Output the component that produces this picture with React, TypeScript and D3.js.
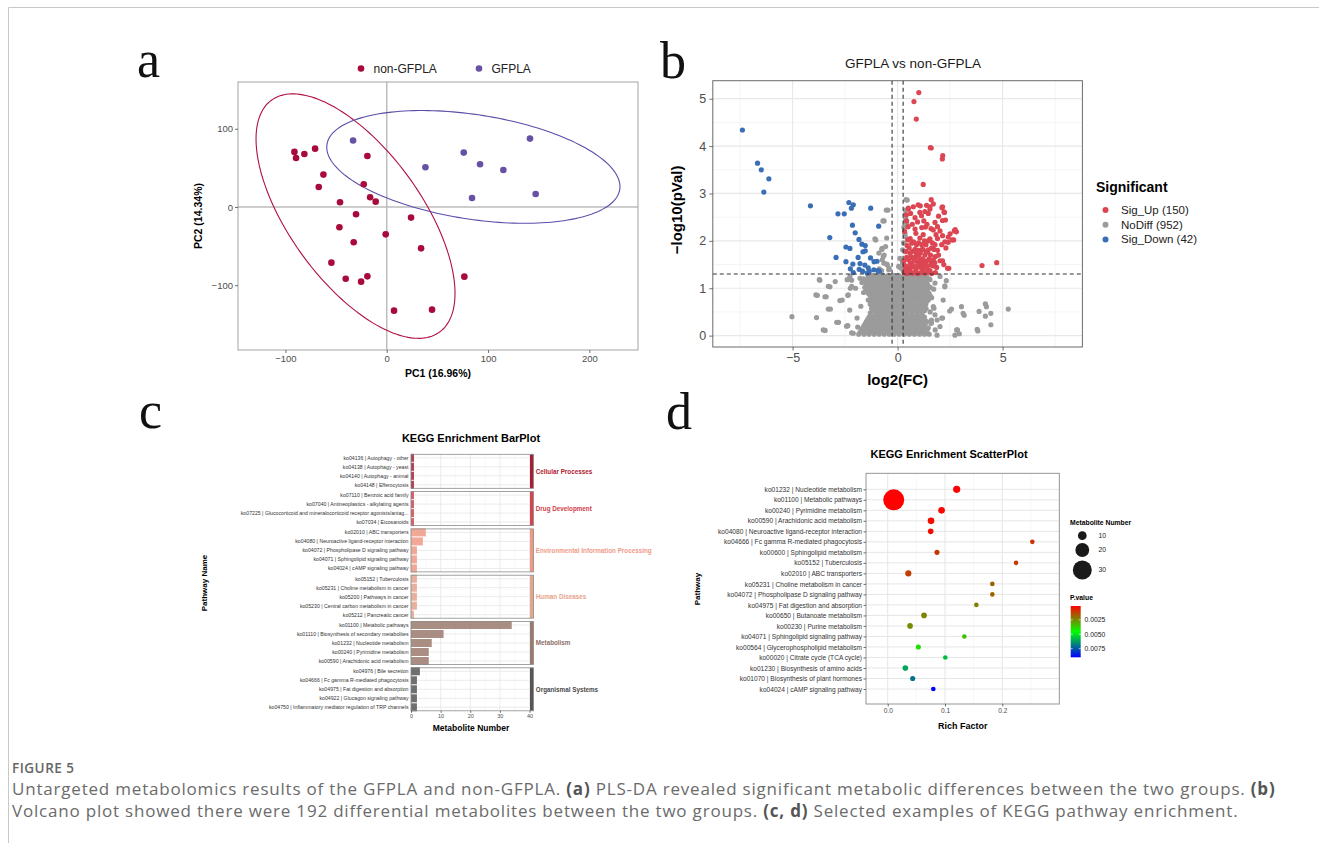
import React, { useEffect, useRef } from 'react';
import * as d3 from 'd3';

// ---------- a: PLS-DA scores ----------
const groupNames = ['non-GFPLA', 'GFPLA'];
const groupColors = ['#A80B3B', '#6651A7'];
const ellipseColors = ['#B0103F', '#5B4DAA'];
const nonGfplaScores = [
  [-91.1, 70.4], [-89.5, 62.7], [-81.3, 67.8], [-70.7, 74.6], [-19.1, 65.2],
  [-62.5, 41.4], [-67.1, 25.6], [-22.7, 29.0], [-16.4, 12.4], [-10.9, 6.8],
  [-46.1, 6.0], [-30.3, -9.4], [-46.7, -26.0], [24.0, -13.6], [-1.0, -35.0],
  [-32.6, -45.2], [33.9, -52.9], [-54.6, -71.2], [-40.5, -91.7], [-25.3, -95.5],
  [-19.1, -88.7], [76.6, -89.1], [7.2, -132.6], [44.7, -131.3],
];
const gfplaScores = [
  [-33.2, 84.9], [76.0, 69.5], [141.4, 87.4], [38.2, 50.7],
  [92.1, 54.6], [115.1, 47.3], [147.0, 16.6], [84.2, 11.5],
];
// centre x, centre y, half range x, half range y, phase
const nonGfplaEllipse = [-30.8, -11.7, 98.2, 156.3, 2.254];
const gfplaEllipse = [85.5, 51.2, 144.7, 72.1, 1.928];
const pcaXTicks = [-100, 0, 100, 200];
const pcaYTicks = [-100, 0, 100];

// ---------- b: volcano ----------
const volcanoGroups = ['Sig_Up (150)', 'NoDiff (952)', 'Sig_Down (42)'];
const volcanoColors = ['#DC4653', '#9B9B9B', '#3A6EB6'];
const sigDown = [
  [-7.39, 4.34], [-6.67, 3.64], [-6.49, 3.5], [-6.13, 3.31], [-6.37, 3.03], [-4.15, 2.74],
  [-2.32, 2.81], [-2.11, 2.76], [-2.2, 2.69], [-2.84, 2.57], [-2.54, 2.57], [-1.28, 2.69],
  [-2.15, 2.33], [-0.9, 2.31], [-2.02, 2.17], [-3.23, 2.07], [-1.84, 2.03], [-1.7, 1.93],
  [-1.54, 1.9], [-2.46, 1.87], [-2.27, 1.84], [-1.54, 1.79], [-1.65, 1.77], [-2.93, 1.65],
  [-1.88, 1.65], [-1.29, 1.64], [-2.46, 1.56], [-2.13, 1.51], [-1.79, 1.52], [-1.56, 1.49],
  [-1.4, 1.43], [-1.12, 1.56], [-0.98, 1.57], [-1.83, 1.4], [-2.11, 1.33], [-1.67, 1.36],
  [-1.35, 1.36], [-0.94, 1.37], [-0.87, 1.36], [-2.25, 1.41], [-1.45, 1.32], [-1.13, 1.39],
];
const sigUp = [
  [1.01, 5.13], [0.78, 4.94], [0.89, 4.57], [1.56, 3.97], [1.6, 3.96], [2.15, 3.8], [2.13, 3.73],
  [1.22, 3.19], [4.02, 1.48], [4.72, 1.54],
  [1.6, 2.87], [0.98, 2.76], [1.38, 2.75], [0.51, 2.67], [1.54, 2.67], [2.11, 2.7], [2.21, 2.61],
  [1.06, 2.6], [1.46, 2.58], [1.14, 2.53], [0.83, 2.49], [0.43, 2.42], [2.14, 2.43], [1.25, 2.42],
  [1.78, 2.39], [1.33, 2.29], [1.59, 2.26], [0.83, 2.25], [1.7, 2.23], [2.02, 2.21], [2.7, 2.21],
  [0.87, 2.16], [1.22, 2.13], [1.83, 2.13], [2.14, 2.11], [2.41, 2.08], [2.59, 2.02], [1.06, 2.06],
  [1.54, 2.04], [0.48, 2.02], [0.67, 1.95], [0.9, 1.92], [1.35, 1.92], [1.78, 1.92], [2.1, 1.92],
  [0.83, 1.82], [1.14, 1.81], [1.46, 1.81], [1.73, 1.82], [0.59, 1.74], [0.9, 1.73], [1.3, 1.7],
  [1.57, 1.7], [0.43, 1.65], [0.75, 1.63], [1.06, 1.6], [1.38, 1.58], [1.7, 1.6], [2.02, 1.58],
  [0.67, 1.53], [0.98, 1.49], [1.25, 1.47], [1.57, 1.49], [1.86, 1.44], [2.38, 1.42], [0.38, 1.42],
  [0.59, 1.37], [0.87, 1.39], [1.22, 1.37], [1.54, 1.37],
  [2.67, 2.02], [2.41, 1.97], [2.8, 2.19], [2.74, 2.24], [2.44, 1.42], [2.14, 1.58], [1.77, 1.54],
  [2.23, 2.6], [2.28, 2.44], [2.14, 2.72], [1.54, 2.72], [1.08, 2.74], [1.7, 2.78], [0.51, 2.69],
  [0.32, 1.33], [0.45, 1.31], [0.55, 1.34], [0.7, 1.32], [0.82, 1.33], [0.95, 1.31], [1.1, 1.33],
  [1.3, 1.32], [1.45, 1.34], [1.62, 1.31], [1.8, 1.33], [0.35, 1.48], [0.5, 1.45], [0.62, 1.44],
  [0.78, 1.46], [0.9, 1.43], [1.12, 1.44], [1.4, 1.43], [1.7, 1.47], [2.2, 1.5], [0.3, 1.58],
  [0.52, 1.6], [0.64, 1.67], [0.88, 1.57], [1.0, 1.69], [1.18, 1.62], [1.25, 1.56], [1.5, 1.62],
  [1.8, 1.67], [1.95, 1.7], [0.4, 1.78], [0.55, 1.85], [0.72, 1.78], [0.98, 1.8], [1.08, 1.74],
  [1.2, 1.82], [1.42, 1.76], [1.62, 1.85], [1.9, 1.8], [2.3, 1.85], [0.45, 1.9], [0.6, 2.05],
  [0.76, 1.98], [1.0, 1.96], [1.15, 1.92], [1.28, 2.0], [1.45, 2.0], [1.65, 1.96], [1.9, 2.05],
  [2.25, 1.98], [0.5, 2.3], [0.7, 2.35], [0.95, 2.4], [1.15, 2.28], [1.4, 2.35], [1.9, 2.3],
  [2.5, 2.15], [0.4, 1.36], [0.6, 1.52], [1.05, 1.52], [1.35, 1.5], [1.6, 1.55], [0.85, 1.66],
  [1.35, 1.78], [0.33, 2.2], [0.42, 2.55], [0.62, 2.58], [0.75, 2.72], [1.3, 2.62], [1.95, 2.52],
];
const noDiffScatter = [
  [-5.03, 0.4], [-3.86, 0.38], [-3.45, 0.11], [-3.82, 0.85], [-3.7, 1.17], [-3.22, 1.03],
  [-3.4, 0.82], [-3.2, 0.56], [-2.81, 0.28], [-2.64, 0.75], [-2.37, 0.85], [-2.28, 0.54],
  [-2.37, 0.21], [-2.11, 0.05], [-2.19, 1.17], [-2.0, 1.0], [-1.93, 0.37], [-2.25, 1.0],
  [-0.46, 2.65], [-0.64, 2.42], [-1.04, 2.02], [-0.74, 1.84], [-0.64, 1.7], [-0.73, 1.6],
  [-0.51, 1.51], [-0.87, 1.41], [-0.42, 1.39], [0.46, 2.86], [0.37, 2.65], [0.37, 2.41],
  [0.48, 2.3], [0.37, 2.09], [0.28, 1.96], [0.34, 1.77], [0.23, 1.56], [0.16, 1.42],
  [2.32, 1.16], [2.25, 1.03], [1.73, 0.58], [2.14, 0.37], [1.79, 0.12], [1.88, 0.01],
  [2.57, 0.56], [2.85, 0.12], [2.94, 0.04], [3.04, 0.61], [3.12, 0.47], [3.17, 0.43],
  [3.79, 0.13], [3.88, 0.51], [4.18, 0.67], [4.23, 0.61], [4.18, 0.41], [4.44, 0.47],
  [4.44, 0.23], [5.27, 0.56], [3.82, 0.1], [1.61, 0.27], [1.29, 0.2], [1.08, 0.11],
  [1.35, 0.05], [1.61, 0.33], [1.88, 0.33],
  [0.4, 2.87], [-0.54, 2.65], [-0.7, 2.42], [-1.08, 2.04], [-0.52, 2.06], [-0.75, 1.82],
  [-0.57, 1.88], [-0.89, 1.74], [-0.68, 1.67], [-0.49, 1.49], [-0.65, 1.53], [-0.4, 1.42],
  [-0.76, 1.37], [0.35, 2.16], [0.3, 2.29], [0.43, 2.37], [0.38, 2.48], [0.37, 2.56],
  [0.24, 1.81], [0.11, 1.63], [0.05, 1.46], [0.24, 1.53], [0.27, 1.37],
  [-3.73, 1.18], [-3.3, 1.04], [-2.97, 1.14], [-2.4, 1.18], [-2.27, 1.25], [-1.79, 1.21],
  [-2.19, 1.04], [-2.35, 0.86], [-2.75, 0.74], [-3.3, 0.56], [-3.46, 0.82], [-3.89, 0.86],
  [-2.9, 0.28], [-2.43, 0.2], [-3.54, 0.12], [-2.19, 0.06], [2.25, 1.05], [2.17, 0.75],
  [2.48, 0.52], [2.1, 0.37], [2.02, 0.19], [2.81, 0.12], [2.73, 0.01], [1.7, 0.61],
  [1.78, 0.44], [1.59, 0.26], [1.3, 0.72], [1.54, 1.18], [1.78, 1.11], [1.38, 1.25], [2.02, 1.25],
  [-1.75, 0.62], [-1.62, 0.91], [-1.9, 0.18], [-1.7, 1.12], [1.62, 0.8], [1.72, 0.98], [1.55, 0.5],
];
// dense NoDiff core, one entry per row: [-log10 p, log2 FC values]
const noDiffCoreRows: [number, number[]][] = [
  [0.03, [-1.85, -1.6, -1.36, -1.12, -0.88, -0.64, -0.4, -0.16, 0.08, 0.32, 0.56, 0.8, 1.04, 1.28, 1.5]],
  [0.075, [-1.78, -1.54, -1.3, -1.06, -0.82, -0.58, -0.34, -0.1, 0.14, 0.38, 0.62, 0.86, 1.1, 1.34]],
  [0.12, [-1.72, -1.48, -1.24, -1.0, -0.76, -0.52, -0.28, -0.04, 0.2, 0.44, 0.68, 0.92, 1.16, 1.4]],
  [0.165, [-1.66, -1.42, -1.18, -0.94, -0.7, -0.46, -0.22, 0.02, 0.26, 0.5, 0.74, 0.98, 1.22, 1.46]],
  [0.21, [-1.6, -1.36, -1.12, -0.88, -0.64, -0.4, -0.16, 0.08, 0.32, 0.56, 0.8, 1.04, 1.28]],
  [0.255, [-1.54, -1.3, -1.06, -0.82, -0.58, -0.34, -0.1, 0.14, 0.38, 0.62, 0.86, 1.1, 1.32]],
  [0.3, [-1.48, -1.24, -1.0, -0.76, -0.52, -0.28, -0.04, 0.2, 0.44, 0.68, 0.92, 1.16, 1.38]],
  [0.345, [-1.42, -1.18, -0.94, -0.7, -0.46, -0.22, 0.02, 0.26, 0.5, 0.74, 0.98, 1.22]],
  [0.39, [-1.36, -1.12, -0.88, -0.64, -0.4, -0.16, 0.1, 0.32, 0.56, 0.8, 1.04, 1.28]],
  [0.435, [-1.24, -1.0, -0.76, -0.52, -0.28, -0.04, 0.2, 0.44, 0.68, 0.92, 1.16]],
  [0.48, [-1.3, -1.0, -0.76, -0.52, -0.28, -0.04, 0.2, 0.44, 0.68, 0.92, 1.16]],
  [0.525, [-1.14, -0.88, -0.64, -0.4, -0.16, 0.1, 0.34, 0.58, 0.82, 1.06, 1.28]],
  [0.57, [-1.24, -0.98, -0.74, -0.5, -0.26, -0.02, 0.22, 0.46, 0.7, 0.94, 1.18, 1.36]],
  [0.615, [-1.18, -0.94, -0.7, -0.46, -0.22, 0.02, 0.26, 0.5, 0.74, 0.98, 1.22]],
  [0.66, [-1.3, -1.06, -0.82, -0.58, -0.34, -0.1, 0.14, 0.38, 0.62, 0.86, 1.1, 1.34]],
  [0.705, [-1.28, -1.04, -0.8, -0.56, -0.32, -0.08, 0.16, 0.4, 0.64, 0.88, 1.12, 1.36]],
  [0.75, [-1.4, -1.16, -0.92, -0.68, -0.44, -0.2, 0.04, 0.28, 0.52, 0.76, 1.0, 1.24, 1.46]],
  [0.795, [-1.22, -0.98, -0.74, -0.5, -0.26, -0.02, 0.22, 0.46, 0.7, 0.94, 1.18, 1.42]],
  [0.84, [-1.3, -1.06, -0.82, -0.58, -0.34, -0.1, 0.14, 0.38, 0.62, 0.86, 1.1, 1.34, 1.55]],
  [0.885, [-1.38, -1.14, -0.9, -0.66, -0.42, -0.18, 0.06, 0.3, 0.54, 0.78, 1.02, 1.26, 1.5]],
  [0.93, [-1.44, -1.2, -0.96, -0.72, -0.48, -0.24, 0.0, 0.24, 0.48, 0.72, 0.96, 1.2, 1.44]],
  [0.975, [-1.5, -1.26, -1.02, -0.78, -0.54, -0.3, -0.06, 0.18, 0.42, 0.66, 0.9, 1.14, 1.38]],
  [1.02, [-1.56, -1.32, -1.08, -0.84, -0.6, -0.36, -0.12, 0.12, 0.36, 0.6, 0.84, 1.08, 1.32, 1.56]],
  [1.065, [-1.44, -1.2, -0.96, -0.72, -0.48, -0.24, 0.0, 0.24, 0.48, 0.72, 0.96, 1.2, 1.44]],
  [1.11, [-1.5, -1.26, -1.02, -0.78, -0.54, -0.3, -0.06, 0.18, 0.42, 0.66, 0.9, 1.14, 1.38]],
  [1.155, [-1.56, -1.32, -1.08, -0.84, -0.6, -0.36, -0.12, 0.12, 0.36, 0.6, 0.84, 1.08, 1.32]],
  [1.2, [-1.62, -1.38, -1.14, -0.9, -0.66, -0.42, -0.18, 0.06, 0.3, 0.54, 0.78, 1.02, 1.26, 1.5]],
  [1.24, [-1.4, -1.1, -0.82, -0.56, -0.3, -0.05, 0.25, 0.52, 0.78, 1.02, 1.3]],
  [1.27, [-1.2, -0.95, -0.7, -0.45, -0.2, 0.05, 0.4, 0.65, 0.9, 1.15]],
];
const fcCutoff = 0.263;
const pCutoff = 1.301;
const volcanoXTicks = [-5, 0, 5];
const volcanoYTicks = [0, 1, 2, 3, 4, 5];

// ---------- c: KEGG bar plot ----------
const barCategories = [
  'Cellular Processes', 'Drug Development', 'Environmental Information Processing',
  'Human Diseases', 'Metabolism', 'Organismal Systems',
];
const barFill = ['#A71E34', '#D5434C', '#EE9985', '#E3A58C', '#9B7A6F', '#565656'];
const barLabelColor = ['#B0202F', '#D0404A', '#EF9A88', '#E6A48C', '#8E6E66', '#4A4A4A'];
const barPathways = [
  ['ko04136 | Autophagy - other', 'ko04138 | Autophagy - yeast', 'ko04140 | Autophagy - animal', 'ko04148 | Efferocytosis'],
  ['ko07110 | Benzoic acid family', 'ko07040 | Antineoplastics - alkylating agents',
    'ko07225 | Glucocorticoid and mineralocorticoid receptor agonists/antag...', 'ko07034 | Eicosanoids'],
  ['ko02010 | ABC transporters', 'ko04080 | Neuroactive ligand-receptor interaction',
    'ko04072 | Phospholipase D signaling pathway', 'ko04071 | Sphingolipid signaling pathway',
    'ko04024 | cAMP signaling pathway'],
  ['ko05152 | Tuberculosis', 'ko05231 | Choline metabolism in cancer', 'ko05200 | Pathways in cancer',
    'ko05230 | Central carbon metabolism in cancer', 'ko05212 | Pancreatic cancer'],
  ['ko01100 | Metabolic pathways', 'ko01110 | Biosynthesis of secondary metabolites',
    'ko01232 | Nucleotide metabolism', 'ko00240 | Pyrimidine metabolism',
    'ko00590 | Arachidonic acid metabolism'],
  ['ko04976 | Bile secretion', 'ko04666 | Fc gamma R-mediated phagocytosis',
    'ko04975 | Fat digestion and absorption', 'ko04922 | Glucagon signaling pathway',
    'ko04750 | Inflammatory mediator regulation of TRP channels'],
];
const barCounts = [
  [1, 1, 1, 1],
  [1, 1, 1, 1],
  [5, 4, 2, 2, 2],
  [2, 2, 2, 2, 1],
  [34, 11, 7, 6, 6],
  [3, 2, 2, 2, 2],
];
const barXTicks = [0, 10, 20, 30, 40];

// ---------- d: KEGG scatter plot ----------
const scatterPathways = [
  'ko01232 | Nucleotide metabolism', 'ko01100 | Metabolic pathways', 'ko00240 | Pyrimidine metabolism',
  'ko00590 | Arachidonic acid metabolism', 'ko04080 | Neuroactive ligand-receptor interaction',
  'ko04666 | Fc gamma R-mediated phagocytosis', 'ko00600 | Sphingolipid metabolism',
  'ko05152 | Tuberculosis', 'ko02010 | ABC transporters', 'ko05231 | Choline metabolism in cancer',
  'ko04072 | Phospholipase D signaling pathway', 'ko04975 | Fat digestion and absorption',
  'ko00650 | Butanoate metabolism', 'ko00230 | Purine metabolism',
  'ko04071 | Sphingolipid signaling pathway', 'ko00564 | Glycerophospholipid metabolism',
  'ko00020 | Citrate cycle (TCA cycle)', 'ko01230 | Biosynthesis of amino acids',
  'ko01070 | Biosynthesis of plant hormones', 'ko04024 | cAMP signaling pathway',
];
const richFactor = [
  0.1204, 0.0105, 0.094, 0.0756, 0.075, 0.2524, 0.086, 0.224, 0.036, 0.1826,
  0.1826, 0.1547, 0.0634, 0.039, 0.1337, 0.0535, 0.1005, 0.0308, 0.0436, 0.0796,
];
const scatterCounts = [7, 34, 6, 6, 4, 2, 3, 2, 5, 2, 2, 2, 4, 4, 2, 3, 2, 4, 3, 2];
const scatterPValues = [
  0.0001, 0.00012, 0.0002, 0.00025, 0.00035, 0.00099, 0.00108, 0.0011, 0.00117, 0.0018,
  0.0018, 0.00233, 0.0024, 0.00255, 0.0034, 0.004, 0.0057, 0.0061, 0.007, 0.009,
];
const scatterXTicks = [0, 0.1, 0.2];
const sizeLegendValues = [10, 20, 30];
const pLegendTicks = [0.0025, 0.005, 0.0075];

const SANS = 'Liberation Sans, Arial, Helvetica, sans-serif';
const SERIF = 'Liberation Serif, Times New Roman, serif';
const CAPTION = 'Open Sans, sans-serif';

function styleAxis(g, size, color = '#4D4D4D') {
  g.select('.domain').remove();
  g.selectAll('.tick line').attr('stroke', '#333').attr('stroke-width', 0.7);
  g.selectAll('.tick text')
    .attr('fill', color)
    .style('font-size', `${size}px`)
    .style('font-family', SANS);
}

function drawPca(svg) {
  const left = 238, right = 638, top = 82, bottom = 350;
  const x = d3.scaleLinear().domain([-146.8, 248]).range([left, right]);
  const y = d3.scaleLinear().domain([-182.9, 159.8]).range([bottom, top]);
  const g = svg.append('g');

  g.append('rect').attr('x', left).attr('y', top).attr('width', right - left).attr('height', bottom - top)
    .attr('fill', 'white');
  g.append('line').attr('x1', x(0)).attr('x2', x(0)).attr('y1', top).attr('y2', bottom)
    .attr('stroke', '#BDBDBD').attr('stroke-width', 1.5);
  g.append('line').attr('x1', left).attr('x2', right).attr('y1', y(0)).attr('y2', y(0))
    .attr('stroke', '#BDBDBD').attr('stroke-width', 1.5);

  const ellipse = (e) => {
    const [cx, cy, hx, hy, ph] = e;
    const ts = d3.range(0, Math.PI * 2, Math.PI / 90);
    return d3.line().curve(d3.curveLinearClosed)(ts.map(t => [x(cx + hx * Math.cos(t)), y(cy + hy * Math.cos(t + ph))]));
  };
  [nonGfplaEllipse, gfplaEllipse].forEach((e, i) => {
    g.append('path').attr('d', ellipse(e)).attr('fill', 'none')
      .attr('stroke', ellipseColors[i]).attr('stroke-width', 1.1);
  });

  [nonGfplaScores, gfplaScores].forEach((pts, i) => {
    g.selectAll(null).data(pts).join('circle')
      .attr('cx', d => x(d[0])).attr('cy', d => y(d[1])).attr('r', 3.3)
      .attr('fill', groupColors[i]);
  });

  g.append('rect').attr('x', left).attr('y', top).attr('width', right - left).attr('height', bottom - top)
    .attr('fill', 'none').attr('stroke', '#A3A3A3').attr('stroke-width', 1);

  const xa = g.append('g').attr('transform', `translate(0,${bottom})`)
    .call(d3.axisBottom(x).tickValues(pcaXTicks).tickSize(3).tickPadding(2));
  styleAxis(xa, 9.5);
  const ya = g.append('g').attr('transform', `translate(${left},0)`)
    .call(d3.axisLeft(y).tickValues(pcaYTicks).tickSize(3).tickPadding(2));
  styleAxis(ya, 9.5);

  g.append('text').attr('x', (left + right) / 2).attr('y', 376.5).attr('text-anchor', 'middle')
    .style('font-family', SANS).style('font-size', '10.5px').style('font-weight', 'bold').text('PC1 (16.96%)');
  g.append('text').attr('transform', `translate(202,${(top + bottom) / 2}) rotate(-90)`)
    .attr('text-anchor', 'middle')
    .style('font-family', SANS).style('font-size', '10.5px').style('font-weight', 'bold').text('PC2 (14.34%)');

  // legend
  const lx = [361, 479];
  groupNames.forEach((n, i) => {
    g.append('circle').attr('cx', lx[i]).attr('cy', 68.5).attr('r', 3.3).attr('fill', groupColors[i]);
    g.append('text').attr('x', lx[i] + 12.5).attr('y', 72.5)
      .style('font-family', SANS).style('font-size', '12px').attr('fill', '#222').text(n);
  });
}

function drawVolcano(svg) {
  const left = 712.8, right = 1082.4, top = 80.7, bottom = 347;
  const x = d3.scaleLinear().domain([-8.8, 8.8]).range([left, right]);
  const y = d3.scaleLinear().domain([-0.24, 5.38]).range([bottom, top]);
  const g = svg.append('g');

  g.append('rect').attr('x', left).attr('y', top).attr('width', right - left).attr('height', bottom - top)
    .attr('fill', 'white');
  [-7.5, -2.5, 2.5, 7.5].forEach(v => g.append('line').attr('x1', x(v)).attr('x2', x(v))
    .attr('y1', top).attr('y2', bottom).attr('stroke', '#F2F2F2').attr('stroke-width', 0.8));
  [0.5, 1.5, 2.5, 3.5, 4.5].forEach(v => g.append('line').attr('y1', y(v)).attr('y2', y(v))
    .attr('x1', left).attr('x2', right).attr('stroke', '#F2F2F2').attr('stroke-width', 0.8));
  volcanoXTicks.forEach(v => g.append('line').attr('x1', x(v)).attr('x2', x(v))
    .attr('y1', top).attr('y2', bottom).attr('stroke', '#E8E8E8').attr('stroke-width', 1.2));
  volcanoYTicks.forEach(v => g.append('line').attr('y1', y(v)).attr('y2', y(v))
    .attr('x1', left).attr('x2', right).attr('stroke', '#E8E8E8').attr('stroke-width', 1.2));

  const noDiff = noDiffScatter.concat(...noDiffCoreRows.map(([py, xs]) => xs.map(fx => [fx, py])));
  const sets = [[noDiff, 1], [sigUp, 0], [sigDown, 2]];
  sets.forEach(([pts, ci]) => {
    g.selectAll(null).data(pts).join('circle')
      .attr('cx', d => x(d[0])).attr('cy', d => y(d[1])).attr('r', 2.6)
      .attr('fill', volcanoColors[ci]);
  });

  [-fcCutoff, fcCutoff].forEach(v => g.append('line').attr('x1', x(v)).attr('x2', x(v))
    .attr('y1', top).attr('y2', bottom).attr('stroke', '#333').attr('stroke-width', 1.1)
    .attr('stroke-dasharray', '4,3'));
  g.append('line').attr('x1', left).attr('x2', right).attr('y1', y(pCutoff)).attr('y2', y(pCutoff))
    .attr('stroke', '#333').attr('stroke-width', 1.1).attr('stroke-dasharray', '4,3');

  g.append('rect').attr('x', left).attr('y', top).attr('width', right - left).attr('height', bottom - top)
    .attr('fill', 'none').attr('stroke', '#6B6B6B').attr('stroke-width', 1);

  const xa = g.append('g').attr('transform', `translate(0,${bottom})`)
    .call(d3.axisBottom(x).tickValues(volcanoXTicks).tickSize(3.5).tickPadding(3).tickFormat(d => d < 0 ? `\u2212${-d}` : `${d}`));
  styleAxis(xa, 12.5);
  const ya = g.append('g').attr('transform', `translate(${left},0)`)
    .call(d3.axisLeft(y).tickValues(volcanoYTicks).tickSize(3.5).tickPadding(3).tickFormat(d3.format('d')));
  styleAxis(ya, 12.5);

  g.append('text').attr('x', 913).attr('y', 68).attr('text-anchor', 'middle')
    .style('font-family', SANS).style('font-size', '13.5px').attr('fill', '#1a1a1a').text('GFPLA vs  non-GFPLA');
  g.append('text').attr('x', (left + right) / 2).attr('y', 384.5).attr('text-anchor', 'middle')
    .style('font-family', SANS).style('font-size', '15px').style('font-weight', 'bold').text('log2(FC)');
  g.append('text').attr('transform', `translate(682,${(top + bottom) / 2 - 4}) rotate(-90)`)
    .attr('text-anchor', 'middle')
    .style('font-family', SANS).style('font-size', '15px').style('font-weight', 'bold').text('\u2212log10(pVal)');

  g.append('text').attr('x', 1096).attr('y', 191.5)
    .style('font-family', SANS).style('font-size', '14px').style('font-weight', 'bold').text('Significant');
  volcanoGroups.forEach((n, i) => {
    const yy = 210 + i * 14.7;
    g.append('circle').attr('cx', 1105.5).attr('cy', yy).attr('r', 3).attr('fill', volcanoColors[i]);
    g.append('text').attr('x', 1121).attr('y', yy + 4)
      .style('font-family', SANS).style('font-size', '11.5px').attr('fill', '#222').text(n);
  });
}

function drawBars(svg) {
  const left = 411, right = 533.5;
  const x = d3.scaleLinear().domain([0, 40]).range([left, 529.5]);
  const g = svg.append('g');
  let top = 454.3;
  let lastBottom = 0;

  barCategories.forEach((cat, i) => {
    const names = barPathways[i];
    const h = (names.length - 1) * 9 + 7;
    const y = d3.scalePoint().domain(names).range([top + 3.5, top + h - 3.5]);
    const p = g.append('g');

    p.append('rect').attr('x', left).attr('y', top).attr('width', right - left).attr('height', h)
      .attr('fill', 'white');
    [5, 15, 25, 35].forEach(v => p.append('line').attr('x1', x(v)).attr('x2', x(v))
      .attr('y1', top).attr('y2', top + h).attr('stroke', '#F3F3F3').attr('stroke-width', 0.5));
    barXTicks.forEach(v => p.append('line').attr('x1', x(v)).attr('x2', x(v))
      .attr('y1', top).attr('y2', top + h).attr('stroke', '#E6E6E6').attr('stroke-width', 0.8));
    names.forEach(n => p.append('line').attr('x1', left).attr('x2', right)
      .attr('y1', y(n)).attr('y2', y(n)).attr('stroke', '#E6E6E6').attr('stroke-width', 0.8));

    p.selectAll(null).data(names).join('rect')
      .attr('x', left).attr('y', d => y(d) - 4).attr('height', 8)
      .attr('width', (d, j) => x(barCounts[i][j]) - left)
      .attr('fill', barFill[i]).attr('fill-opacity', 0.85);

    p.append('rect').attr('x', 530).attr('y', top).attr('width', right - 530).attr('height', h)
      .attr('fill', barFill[i]);
    p.append('rect').attr('x', left).attr('y', top).attr('width', right - left).attr('height', h)
      .attr('fill', 'none').attr('stroke', '#8A8A8A').attr('stroke-width', 0.8);

    p.selectAll(null).data(names).join('text')
      .attr('x', 408.5).attr('y', d => y(d) + 1.8).attr('text-anchor', 'end')
      .style('font-family', SANS).style('font-size', '5.2px').attr('fill', '#333').text(d => d);

    p.append('text').attr('x', 535.8).attr('y', top + h / 2 + 2.2)
      .style('font-family', SANS).style('font-size', '6.3px').style('font-weight', 'bold')
      .attr('fill', barLabelColor[i]).text(cat);

    lastBottom = top + h;
    top += h + 3.3;
  });

  const xa = g.append('g').attr('transform', `translate(0,${lastBottom})`)
    .call(d3.axisBottom(x).tickValues(barXTicks).tickSize(2).tickPadding(1.5));
  styleAxis(xa, 5.5);

  g.append('text').attr('x', 471).attr('y', 442).attr('text-anchor', 'middle')
    .style('font-family', SANS).style('font-size', '11px').style('font-weight', 'bold').text('KEGG Enrichment BarPlot');
  g.append('text').attr('x', 471).attr('y', 730.5).attr('text-anchor', 'middle')
    .style('font-family', SANS).style('font-size', '8.5px').style('font-weight', 'bold').text('Metabolite Number');
  g.append('text').attr('transform', `translate(207,583) rotate(-90)`).attr('text-anchor', 'middle')
    .style('font-family', SANS).style('font-size', '8px').style('font-weight', 'bold').text('Pathway Name');
}

function drawScatter(svg) {
  const left = 866, right = 1059.3, top = 473.3, bottom = 704;
  const x = d3.scaleLinear().domain([-0.0379, 0.2995]).range([left, right]);
  const y = d3.scalePoint().domain(scatterPathways).range([489.3, 689]);
  const r = d3.scaleLinear().domain([2, 34]).range([2.3, 10.5]);
  const pExtent = d3.extent(scatterPValues);
  const color = d3.scaleLinear()
    .domain([pExtent[0], (pExtent[0] + pExtent[1]) / 2, pExtent[1]])
    .range(['#FF0000', '#00FF00', '#0000FF'])
    .interpolate(d3.interpolateRgb);
  const g = svg.append('g');

  g.append('rect').attr('x', left).attr('y', top).attr('width', right - left).attr('height', bottom - top)
    .attr('fill', 'white');
  [-0.05, 0.05, 0.15, 0.25].forEach(v => {
    if (x(v) > left) g.append('line').attr('x1', x(v)).attr('x2', x(v)).attr('y1', top).attr('y2', bottom)
      .attr('stroke', '#F2F2F2').attr('stroke-width', 0.6);
  });
  scatterXTicks.forEach(v => g.append('line').attr('x1', x(v)).attr('x2', x(v)).attr('y1', top).attr('y2', bottom)
    .attr('stroke', '#E6E6E6').attr('stroke-width', 1));
  scatterPathways.forEach(n => g.append('line').attr('x1', left).attr('x2', right).attr('y1', y(n)).attr('y2', y(n))
    .attr('stroke', '#E6E6E6').attr('stroke-width', 1));

  g.selectAll(null).data(scatterPathways).join('circle')
    .attr('cx', (d, i) => x(richFactor[i])).attr('cy', d => y(d))
    .attr('r', (d, i) => r(scatterCounts[i]))
    .attr('fill', (d, i) => color(scatterPValues[i]));

  g.append('rect').attr('x', left).attr('y', top).attr('width', right - left).attr('height', bottom - top)
    .attr('fill', 'none').attr('stroke', '#8A8A8A').attr('stroke-width', 0.9);

  const ya = g.append('g').attr('transform', `translate(${left},0)`)
    .call(d3.axisLeft(y).tickSize(2.5).tickPadding(1.5));
  styleAxis(ya, 6.6, '#333');
  const xa = g.append('g').attr('transform', `translate(0,${bottom})`)
    .call(d3.axisBottom(x).tickValues(scatterXTicks).tickSize(2.5).tickPadding(2).tickFormat(d3.format('.1f')));
  styleAxis(xa, 6.6);

  g.append('text').attr('x', 949).attr('y', 457.5).attr('text-anchor', 'middle')
    .style('font-family', SANS).style('font-size', '11px').style('font-weight', 'bold').text('KEGG Enrichment ScatterPlot');
  g.append('text').attr('x', (left + right) / 2).attr('y', 729).attr('text-anchor', 'middle')
    .style('font-family', SANS).style('font-size', '9px').style('font-weight', 'bold').text('Rich Factor');
  g.append('text').attr('transform', `translate(700,589) rotate(-90)`).attr('text-anchor', 'middle')
    .style('font-family', SANS).style('font-size', '8px').style('font-weight', 'bold').text('Pathway');

  // size legend
  g.append('text').attr('x', 1070).attr('y', 524.5)
    .style('font-family', SANS).style('font-size', '6.8px').style('font-weight', 'bold').text('Metabolite Number');
  const sy = [535.7, 550, 570];
  sizeLegendValues.forEach((v, i) => {
    g.append('circle').attr('cx', 1082.3).attr('cy', sy[i]).attr('r', r(v)).attr('fill', '#1a1a1a');
    g.append('text').attr('x', 1098.5).attr('y', sy[i] + 2.4)
      .style('font-family', SANS).style('font-size', '6.8px').attr('fill', '#222').text(v);
  });

  // colour bar
  g.append('text').attr('x', 1070).attr('y', 599.5)
    .style('font-family', SANS).style('font-size', '6.8px').style('font-weight', 'bold').text('P.value');
  const cb = d3.scaleLinear().domain(pExtent).range([606, 657.3]);
  const grad = svg.append('defs').append('linearGradient').attr('id', 'pgrad')
    .attr('x1', 0).attr('x2', 0).attr('y1', 0).attr('y2', 1);
  d3.range(0, 1.0001, 0.05).forEach(t => grad.append('stop')
    .attr('offset', t).attr('stop-color', color(pExtent[0] + t * (pExtent[1] - pExtent[0]))));
  g.append('rect').attr('x', 1070.7).attr('y', 606).attr('width', 10).attr('height', 51.3)
    .attr('fill', 'url(#pgrad)');
  pLegendTicks.forEach(v => {
    g.append('line').attr('x1', 1070.7).attr('x2', 1072.7).attr('y1', cb(v)).attr('y2', cb(v)).attr('stroke', 'white').attr('stroke-width', 0.6);
    g.append('line').attr('x1', 1078.7).attr('x2', 1080.7).attr('y1', cb(v)).attr('y2', cb(v)).attr('stroke', 'white').attr('stroke-width', 0.6);
    g.append('text').attr('x', 1084.5).attr('y', cb(v) + 2.4)
      .style('font-family', SANS).style('font-size', '6.8px').attr('fill', '#222').text(d3.format('.4f')(v));
  });
}

function drawFrame(svg) {
  svg.append('path').attr('d', 'M1319,7.5 H8.5 V843').attr('fill', 'none')
    .attr('stroke', '#C8C8C8').attr('stroke-width', 1);
  const letters = [['a', 137, 77], ['b', 660, 78], ['c', 139, 428], ['d', 666, 429]];
  letters.forEach(([t, lx, ly]) => svg.append('text').attr('x', lx).attr('y', ly)
    .style('font-family', SERIF).style('font-size', '52px').attr('fill', '#111').text(t));

  svg.append('text').attr('x', 12).attr('y', 773)
    .style('font-family', CAPTION).style('font-size', '13.5px').style('font-weight', 600)
    .style('letter-spacing', '0.5px').attr('fill', '#666').text('FIGURE 5');
  const lines = [
    [['Untargeted metabolomics results of the GFPLA and non-GFPLA. ', false], ['(a)', true],
      [' PLS-DA revealed significant metabolic differences between the two groups. ', false], ['(b)', true]],
    [['Volcano plot showed there were 192 differential metabolites between the two groups. ', false],
      ['(c, d)', true], [' Selected examples of KEGG pathway enrichment.', false]],
  ];
  lines.forEach((parts, i) => {
    const t = svg.append('text').attr('x', 12).attr('y', 795 + i * 22)
      .style('font-family', CAPTION).style('font-size', '17px').style('letter-spacing', '0.8px')
      .attr('fill', '#6B6B6B');
    parts.forEach(([s, b]) => t.append('tspan').style('font-weight', b ? 'bold' : 'normal')
      .attr('fill', b ? '#555' : '#6B6B6B').text(s));
  });
}

const App = () => {
  const svgRef = useRef(null);

  useEffect(() => {
    const svg = d3.select(svgRef.current);
    svg.selectAll('*').remove();
    svg.append('rect').attr('width', 1319).attr('height', 843).attr('fill', 'white');
    drawFrame(svg);
    drawPca(svg);
    drawVolcano(svg);
    drawBars(svg);
    drawScatter(svg);
  }, []);

  return (
    <svg ref={svgRef} width={1319} height={843}
      style={{ position: 'absolute', left: 0, top: 0, display: 'block' }} />
  );
};

export default App;
